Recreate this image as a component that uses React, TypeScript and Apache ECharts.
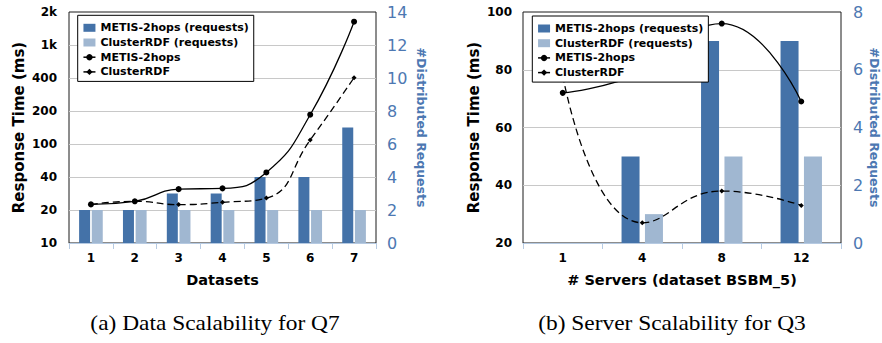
import React, { useEffect, useRef } from "react";
import * as echarts from "echarts";

// ---- Data: (a) Data Scalability for Q7 ----
const leftCategories = ["1", "2", "3", "4", "5", "6", "7"];
const leftMetisRequests = [2, 2, 3, 3, 4, 4, 7];
const leftClusterRequests = [2, 2, 2, 2, 2, 2, 2];
const leftMetisTime = [22.5, 24, 31, 31.5, 44, 148, 1045];
const leftClusterTime = [22.5, 24, 22.4, 23.5, 25.7, 87, 322];
const leftTimeTicks = [10, 20, 40, 80, 160, 320, 640, 1280];
const leftTimeTickLabels = ["10", "20", "40", "100", "200", "400", "1k", "2k"];

// ---- Data: (b) Server Scalability for Q3 ----
const rightCategories = ["1", "4", "8", "12"];
const rightMetisRequests = [0, 3, 7, 7];
const rightClusterRequests = [0, 1, 3, 3];
const rightMetisTime = [72, 79, 96, 69];
const rightClusterTime = [78, 27, 38, 33];

const legendNames = ["METIS-2hops (requests)", "ClusterRDF (requests)", "METIS-2hops", "ClusterRDF"];
const captions = ["(a) Data Scalability for Q7", "(b) Server Scalability for Q3"];

const DARK = "#4472a8";
const LIGHT = "#a0b7d1";
const BLUE_TEXT = "#4d78b2";
const AXIS_BLUE = "#b6cae2";
const GRID_GRAY = "#c8c8c8";
const FONT = "DejaVu Sans";

function logLabel(v: number): string {
  let best = 0;
  let bestD = Infinity;
  for (let i = 0; i < leftTimeTicks.length; i++) {
    const d = Math.abs(Math.log(v) - Math.log(leftTimeTicks[i]));
    if (d < bestD) {
      bestD = d;
      best = i;
    }
  }
  return leftTimeTickLabels[best];
}

export default function App() {
  const ref = useRef<HTMLDivElement>(null);

  useEffect(() => {
    if (!ref.current) return;
    const chart = echarts.init(ref.current, undefined, { renderer: "svg" });

    const xAxisCommon = (gridIndex: number, data: string[], name: string) => ({
      type: "category",
      gridIndex,
      data,
      boundaryGap: true,
      name,
      nameLocation: "middle",
      nameGap: 29,
      nameTextStyle: { fontFamily: FONT, fontSize: 14.5, fontWeight: "bold", color: "#000" },
      axisLine: { show: true, lineStyle: { color: AXIS_BLUE, width: 1 } },
      axisTick: { show: true, length: 6, alignWithLabel: false, lineStyle: { color: AXIS_BLUE } },
      axisLabel: { interval: 0, margin: 9, fontFamily: FONT, fontSize: 12, fontWeight: "bold", color: "#000" },
      splitLine: { show: false },
    });

    const leftNameStyle = { fontFamily: FONT, fontSize: 15, fontWeight: "bold", color: "#000" };
    const rightNameStyle = { fontFamily: FONT, fontSize: 12.5, fontWeight: "bold", color: BLUE_TEXT };
    const leftLabelStyle = { fontFamily: FONT, fontSize: 12, fontWeight: "bold", color: "#000" };
    const rightLabelStyle = { fontFamily: FONT, fontSize: 16, fontWeight: "normal", color: BLUE_TEXT };

    const lineSeries = (name: string, data: number[], xi: number, yi: number, dashed: boolean) => ({
      type: "line",
      name,
      xAxisIndex: xi,
      yAxisIndex: yi,
      data,
      smooth: true,
      symbol: dashed ? "diamond" : "circle",
      symbolSize: dashed ? 5 : 6,
      showAllSymbol: true,
      lineStyle: { color: "#000", width: 1.3, type: dashed ? [7, 4] : "solid" },
      itemStyle: { color: "#000" },
      z: 3,
    });

    const barSeries = (name: string, data: number[], xi: number, yi: number, color: string, w: number, gap: string) => ({
      type: "bar",
      name,
      xAxisIndex: xi,
      yAxisIndex: yi,
      data,
      barWidth: w,
      barGap: gap,
      itemStyle: { color },
      z: 2,
    });

    const legendCommon = {
      orient: "vertical",
      data: [
        { name: legendNames[0], icon: "rect" },
        { name: legendNames[1], icon: "rect" },
        { name: legendNames[2] },
        { name: legendNames[3] },
      ],
      itemWidth: 12,
      itemHeight: 8,
      itemGap: 1.7,
      padding: [6, 5, 3, 5],
      backgroundColor: "#fff",
      borderColor: "#000",
      borderWidth: 1,
      borderRadius: 0,
      selectedMode: false,
      lineStyle: { type: "solid", width: 1.5 },
      textStyle: { fontFamily: FONT, fontSize: 11, fontWeight: "bold", color: "#000", lineHeight: 13 },
      z: 10,
    };

    const option: any = {
      animation: false,
      backgroundColor: "#fff",
      textStyle: { fontFamily: FONT },
      grid: [
        { left: 69, top: 12, width: 307, height: 231, show: true, borderColor: "#1a1a1a", borderWidth: 1, backgroundColor: "transparent" },
        { left: 523, top: 12, width: 318, height: 231, show: true, borderColor: "#1a1a1a", borderWidth: 1, backgroundColor: "transparent" },
      ],
      legend: [
        { ...legendCommon, left: 77.7, top: 15.3 },
        { ...legendCommon, left: 532.3, top: 16 },
      ],
      xAxis: [
        xAxisCommon(0, leftCategories, "Datasets"),
        xAxisCommon(1, rightCategories, "# Servers (dataset BSBM_5)"),
      ],
      yAxis: [
        {
          type: "log",
          logBase: 2,
          gridIndex: 0,
          min: 10,
          max: 1280,
          position: "left",
          name: "Response Time (ms)",
          nameLocation: "middle",
          nameGap: 43,
          nameRotate: 90,
          nameTextStyle: leftNameStyle,
          axisLine: { show: false },
          axisTick: { show: false, customValues: leftTimeTicks },
          axisLabel: { ...leftLabelStyle, margin: 12, customValues: leftTimeTicks, formatter: (v: number) => logLabel(v) },
          splitLine: { show: true, showMinLine: false, showMaxLine: false, lineStyle: { color: GRID_GRAY, width: 1 } },
        },
        {
          type: "value",
          gridIndex: 0,
          min: 0,
          max: 14,
          interval: 2,
          position: "right",
          name: "#Distributed Requests",
          nameLocation: "middle",
          nameGap: 38.5,
          nameRotate: -90,
          nameTextStyle: rightNameStyle,
          axisLine: { show: false },
          axisTick: { show: false },
          axisLabel: { ...rightLabelStyle, margin: 11 },
          splitLine: { show: false },
        },
        {
          type: "value",
          gridIndex: 1,
          min: 20,
          max: 100,
          interval: 20,
          position: "left",
          name: "Response Time (ms)",
          nameLocation: "middle",
          nameGap: 42,
          nameRotate: 90,
          nameTextStyle: leftNameStyle,
          axisLine: { show: false },
          axisTick: { show: false },
          axisLabel: { ...leftLabelStyle, margin: 11 },
          splitLine: { show: true, showMinLine: false, showMaxLine: false, lineStyle: { color: GRID_GRAY, width: 1 } },
        },
        {
          type: "value",
          gridIndex: 1,
          min: 0,
          max: 8,
          interval: 2,
          position: "right",
          name: "#Distributed Requests",
          nameLocation: "middle",
          nameGap: 26.5,
          nameRotate: -90,
          nameTextStyle: rightNameStyle,
          axisLine: { show: false },
          axisTick: { show: false },
          axisLabel: { ...rightLabelStyle, margin: 12 },
          splitLine: { show: false },
        },
      ],
      series: [
        barSeries(legendNames[0], leftMetisRequests, 0, 1, DARK, 11, "15%"),
        barSeries(legendNames[1], leftClusterRequests, 0, 1, LIGHT, 11, "15%"),
        lineSeries(legendNames[2], leftMetisTime, 0, 0, false),
        lineSeries(legendNames[3], leftClusterTime, 0, 0, true),
        barSeries(legendNames[0], rightMetisRequests, 1, 3, DARK, 18, "30%"),
        barSeries(legendNames[1], rightClusterRequests, 1, 3, LIGHT, 18, "30%"),
        lineSeries(legendNames[2], rightMetisTime, 1, 2, false),
        lineSeries(legendNames[3], rightClusterTime, 1, 2, true),
      ],
      graphic: [
        {
          type: "text",
          x: 215,
          y: 324,
          scaleX: 1.17,
          style: { text: captions[0], fontFamily: "Liberation Serif", fontSize: 20, fill: "#000", align: "center", verticalAlign: "middle" },
        },
        {
          type: "text",
          x: 672,
          y: 324,
          scaleX: 1.17,
          style: { text: captions[1], fontFamily: "Liberation Serif", fontSize: 20, fill: "#000", align: "center", verticalAlign: "middle" },
        },
      ],
    };

    chart.setOption(option);
    return () => chart.dispose();
  }, []);

  return (
    <div
      ref={ref}
      style={{ position: "fixed", left: 0, top: 0, width: 882, height: 343, background: "#fff" }}
    />
  );
}
